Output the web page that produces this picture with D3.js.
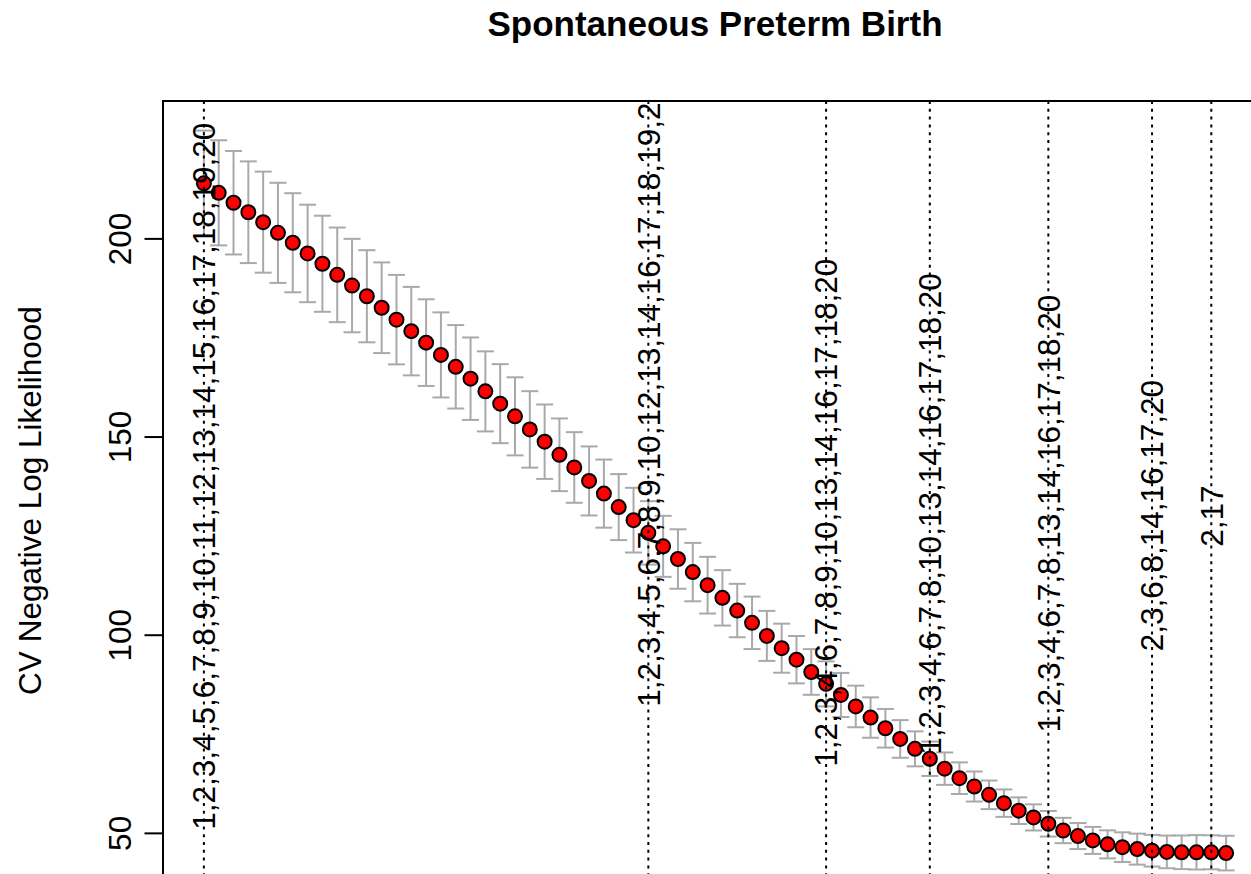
<!DOCTYPE html>
<html>
<head>
<meta charset="utf-8">
<script src="https://cdn.jsdelivr.net/npm/d3@7/dist/d3.min.js"></script>
<style>
  html, body { margin: 0; padding: 0; background: #ffffff; }
  svg { display: block; font-family: "Liberation Sans", Arial, Helvetica, sans-serif; }
</style>
</head>
<body>
<svg id="chart" width="1251" height="874"></svg>
<script>
// ---- data ----
const titleText = "Spontaneous Preterm Birth";
const yTitle = "CV Negative Log Likelihood";
const yTicks = [50, 100, 150, 200];

// CV mean per lambda step (left to right)
const cvm = [
  213.9, 211.5, 209.0, 206.6, 204.1, 201.4, 198.9, 196.2, 193.6, 190.8,
  188.1, 185.4, 182.5, 179.5, 176.6, 173.7, 170.6, 167.6, 164.6, 161.4,
  158.3, 155.1, 151.8, 148.7, 145.4, 142.2, 138.8, 135.6, 132.2, 128.9,
  125.7, 122.3, 119.1, 115.8, 112.5, 109.3, 106.1, 103.0, 99.7, 96.6,
  93.7, 90.6, 87.6, 84.8, 81.9, 79.1, 76.4, 73.7, 71.2, 68.7,
  66.2, 63.8, 61.7, 59.6, 57.5, 55.6, 53.9, 52.3, 50.6, 49.2,
  48.1, 47.1, 46.4, 45.9, 45.5, 45.2, 45.1, 45.1, 45.1, 44.9
];
// CV standard error per step
const cvsd = [
  13.3, 13.26, 13.06, 12.83, 12.75, 12.63, 12.5, 12.3, 12.12, 11.94,
  11.79, 11.62, 11.44, 11.29, 11.16, 10.93, 10.73, 10.53, 10.4, 10.1,
  9.97, 9.85, 9.65, 9.39, 9.17, 8.91, 8.71, 8.59, 8.33, 8.16,
  8.0, 7.7, 7.5, 7.37, 7.15, 6.99, 6.74, 6.62, 6.31, 6.19,
  5.98, 5.76, 5.68, 5.56, 5.25, 5.1, 4.87, 4.75, 4.42, 4.34,
  4.09, 3.99, 3.79, 3.61, 3.46, 3.36, 3.3, 3.23, 3.2, 3.28,
  3.41, 3.54, 3.74, 3.91, 3.99, 4.12, 4.24, 4.34, 4.29, 4.37
];
// marked steps and the selected-variable labels
const markSteps = [0, 30, 42, 49, 57, 64, 68];
const markLabels = [
  "1,2,3,4,5,6,7,8,9,10,11,12,13,14,15,16,17,18,19,20",
  "1,2,3,4,5,6,7,8,9,10,12,13,14,16,17,18,19,20",
  "1,2,3,4,6,7,8,9,10,13,14,16,17,18,20",
  "1,2,3,4,6,7,8,10,13,14,16,17,18,20",
  "1,2,3,4,6,7,8,13,14,16,17,18,20",
  "2,3,6,8,14,16,17,20",
  "2,17"
];
// y value (data units) where each label text begins
const markLabelY = [50.8, 81.8, 66.7, 69.7, 75.3, 95.8, 122.2];

// ---- layout ----
const svg = d3.select("#chart");
const plot = { left: 163, top: 101, right: 1267, bottom: 900 };
const n = cvm.length;
const steps = d3.range(n);

const upper = cvm.map((m, i) => m + cvsd[i]);
const lower = cvm.map((m, i) => m - cvsd[i]);
const yMin = d3.min(lower), yMax = d3.max(upper);
const yPad = (yMax - yMin) * 0.04;
const xPad = (n - 1) * 0.04;

const x = d3.scaleLinear().domain([0 - xPad, (n - 1) + xPad]).range([plot.left, plot.right]);
const y = d3.scaleLinear().domain([yMin - yPad, yMax + yPad]).range([plot.bottom, plot.top]);

const defs = svg.append("defs");
defs.append("clipPath").attr("id", "plotClip")
  .append("rect")
  .attr("x", plot.left).attr("y", plot.top)
  .attr("width", plot.right - plot.left).attr("height", plot.bottom - plot.top);

const FS = 31.5;

// title
svg.append("text")
  .attr("x", (plot.left + plot.right) / 2)
  .attr("y", 36)
  .attr("text-anchor", "middle")
  .attr("font-weight", "bold")
  .attr("font-size", 35)
  .attr("fill", "#000")
  .text(titleText);

// y axis
const yAxis = d3.axisLeft(y).tickValues(yTicks).tickSize(18.5).tickPadding(0).tickFormat(d3.format("d"));
const gy = svg.append("g").attr("transform", `translate(${plot.left},0)`).call(yAxis);
gy.select(".domain").remove();
gy.selectAll(".tick line").attr("stroke", "#000").attr("stroke-width", 2);
gy.selectAll(".tick text").remove();
gy.selectAll(".tick").append("text")
  .attr("transform", "translate(-32,0) rotate(-90)")
  .attr("text-anchor", "middle")
  .attr("fill", "#000")
  .attr("font-size", FS)
  .text(d => d);

// y title
svg.append("text")
  .attr("transform", `translate(41,${(plot.top + plot.bottom) / 2}) rotate(-90)`)
  .attr("text-anchor", "middle")
  .attr("font-size", FS)
  .attr("fill", "#000")
  .text(yTitle);

const g = svg.append("g").attr("clip-path", "url(#plotClip)");

// error bars
const capHalf = 8.5;
const bars = g.append("g").attr("stroke", "#A9A9A9").attr("stroke-width", 2).attr("fill", "none");
steps.forEach(i => {
  bars.append("line").attr("x1", x(i)).attr("x2", x(i)).attr("y1", y(upper[i])).attr("y2", y(lower[i]));
  bars.append("line").attr("x1", x(i) - capHalf).attr("x2", x(i) + capHalf).attr("y1", y(upper[i])).attr("y2", y(upper[i]));
  bars.append("line").attr("x1", x(i) - capHalf).attr("x2", x(i) + capHalf).attr("y1", y(lower[i])).attr("y2", y(lower[i]));
});

// points
g.append("g").selectAll("circle").data(steps).join("circle")
  .attr("cx", i => x(i)).attr("cy", i => y(cvm[i]))
  .attr("r", 7)
  .attr("fill", "#FF0000")
  .attr("stroke", "#000")
  .attr("stroke-width", 2);

// dotted vertical lines
g.append("g").selectAll("line").data(markSteps).join("line")
  .attr("x1", i => x(i)).attr("x2", i => x(i))
  .attr("y1", plot.top).attr("y2", plot.bottom)
  .attr("stroke", "#000").attr("stroke-width", 2)
  .attr("stroke-dasharray", "3,4.8");

// labels
g.append("g").selectAll("text").data(markSteps).join("text")
  .attr("transform", (s, k) => `translate(${x(s) + FS * 0.358},${y(markLabelY[k])}) rotate(-90)`)
  .attr("text-anchor", "start")
  .attr("font-size", FS)
  .attr("fill", "#000")
  .text((s, k) => markLabels[k]);

// box
svg.append("rect")
  .attr("x", plot.left).attr("y", plot.top)
  .attr("width", plot.right - plot.left).attr("height", plot.bottom - plot.top)
  .attr("fill", "none").attr("stroke", "#000").attr("stroke-width", 2);
</script>
</body>
</html>
